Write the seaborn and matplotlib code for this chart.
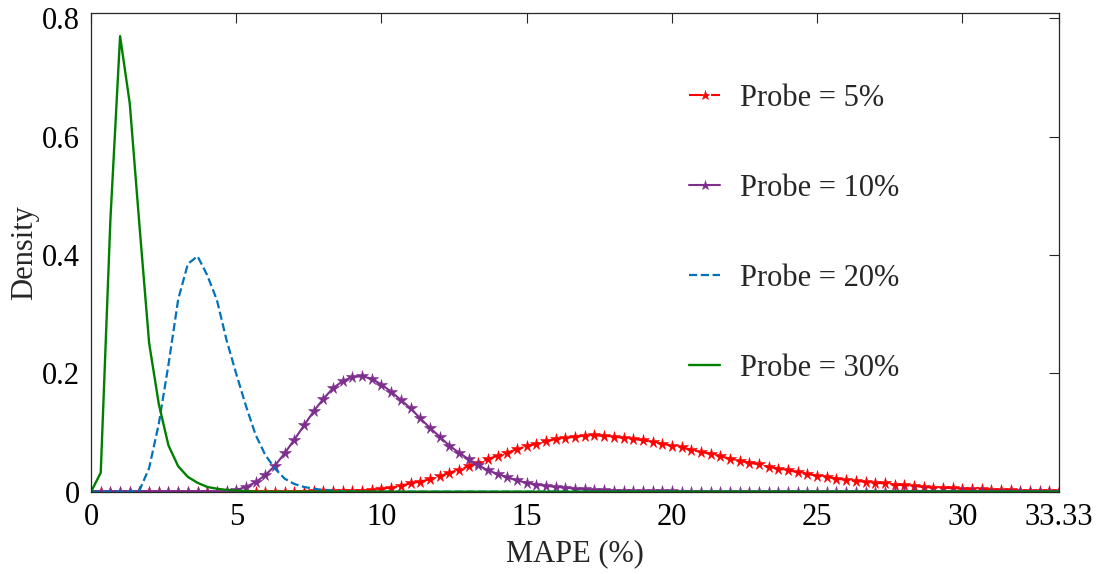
import numpy as np
import pandas as pd
import matplotlib
matplotlib.use("Agg")
import matplotlib.pyplot as plt
import seaborn as sns

# x grid: 101 points from 0 to 33.33
mape = np.arange(101) / 3.0

probe_5 = [
    0, 0, 0, 0, 0, 0, 0, 0, 0, 0,
    0, 0, 0, 0, 0, 0, 0, 0, 0, 0,
    0, 0, 0, 0.0005, 0.001, 0.001, 0.001, 0.002, 0.002, 0.003,
    0.005, 0.007, 0.010, 0.014, 0.017, 0.021, 0.026, 0.032, 0.037, 0.043,
    0.049, 0.055, 0.061, 0.066, 0.072, 0.077, 0.081, 0.085, 0.089, 0.0905,
    0.093, 0.0945, 0.095, 0.0945, 0.093, 0.091, 0.089, 0.087, 0.084, 0.081,
    0.078, 0.075, 0.071, 0.067, 0.064, 0.060, 0.056, 0.052, 0.049, 0.046,
    0.042, 0.039, 0.036, 0.033, 0.030, 0.027, 0.025, 0.022, 0.020, 0.018,
    0.017, 0.015, 0.014, 0.012, 0.011, 0.0095, 0.008, 0.007, 0.0065, 0.006,
    0.005, 0.0045, 0.004, 0.0034, 0.003, 0.0023, 0.0018, 0.0015, 0.001, 0.001,
    0.0006,
]

probe_10 = [
    0, 0, 0, 0, 0, 0, 0, 0, 0, 0,
    0, 0, 0, 0, 0.001, 0.003, 0.008, 0.016, 0.028, 0.044,
    0.065, 0.088, 0.112, 0.136, 0.157, 0.175, 0.187, 0.194, 0.195, 0.191,
    0.181, 0.169, 0.155, 0.141, 0.124, 0.108, 0.093, 0.078, 0.066, 0.055,
    0.045, 0.036, 0.030, 0.024, 0.019, 0.015, 0.012, 0.010, 0.008, 0.007,
    0.005, 0.004, 0.003, 0.003, 0.002, 0.002, 0.001, 0.001, 0.001, 0.001,
    0.001, 0, 0, 0, 0, 0, 0, 0, 0, 0,
    0, 0, 0, 0, 0, 0, 0, 0, 0, 0,
    0, 0, 0, 0, 0, 0, 0, 0, 0, 0,
    0, 0, 0, 0, 0, 0, 0, 0, 0, 0,
    0,
]

probe_20 = [
    0, 0, 0, 0, 0, 0.002, 0.040, 0.115, 0.215, 0.325,
    0.385, 0.398, 0.366, 0.324, 0.256, 0.199, 0.145, 0.096, 0.062, 0.039,
    0.022, 0.013, 0.008, 0.005, 0.003, 0.002, 0.001, 0.001, 0, 0,
    0, 0, 0, 0, 0, 0, 0, 0, 0, 0,
    0, 0, 0, 0, 0, 0, 0, 0, 0, 0,
    0, 0, 0, 0, 0, 0, 0, 0, 0, 0,
    0, 0, 0, 0, 0, 0, 0, 0, 0, 0,
    0, 0, 0, 0, 0, 0, 0, 0, 0, 0,
    0, 0, 0, 0, 0, 0, 0, 0, 0, 0,
    0, 0, 0, 0, 0, 0, 0, 0, 0, 0,
    0,
]

probe_30 = [
    0, 0.032, 0.46, 0.770, 0.656, 0.45, 0.251, 0.148, 0.078, 0.043,
    0.025, 0.015, 0.008, 0.005, 0.003, 0.002, 0.001, 0, 0, 0,
    0, 0, 0, 0, 0, 0, 0, 0, 0, 0,
    0, 0, 0, 0, 0, 0, 0, 0, 0, 0,
    0, 0, 0, 0, 0, 0, 0, 0, 0, 0,
    0, 0, 0, 0, 0, 0, 0, 0, 0, 0,
    0, 0, 0, 0, 0, 0, 0, 0, 0, 0,
    0, 0, 0, 0, 0, 0, 0, 0, 0, 0,
    0, 0, 0, 0, 0, 0, 0, 0, 0, 0,
    0, 0, 0, 0, 0, 0, 0, 0, 0, 0,
    0,
]

labels = ["Probe = 5%", "Probe = 10%", "Probe = 20%", "Probe = 30%"]
xtick_vals = [0, 5, 10, 15, 20, 25, 30, 33.33]
xtick_labels = ["0", "5", "10", "15", "20", "25", "30", "33.33"]
ytick_vals = [0, 0.2, 0.4, 0.6, 0.8]
ytick_labels = ["0", "0.2", "0.4", "0.6", "0.8"]

sns.set_style("white")
plt.rcParams["font.family"] = ["Liberation Serif", "DejaVu Serif"]
plt.rcParams["mathtext.fontset"] = "stix"

fig = plt.figure(figsize=(10.97, 5.74), dpi=100)
ax = fig.add_axes([0.083, 0.1434, 0.8824, 0.8334])

styles = [
    dict(color="#FF0000", linestyle="-.", marker="*", markersize=8.5,
         markeredgecolor="#FF0000", linewidth=1.5),
    dict(color="#7E2F8E", linestyle="-", marker="*", markersize=8.5,
         markeredgecolor="#7E2F8E", linewidth=1.5),
    dict(color="#0072BD", linestyle="--", linewidth=1.6, dashes=(4.5, 3.5)),
    dict(color="#008000", linestyle="-", linewidth=1.7),
]
series = [probe_5, probe_10, probe_20, probe_30]

for yvals, lab, st in zip(series, labels, styles):
    sns.lineplot(x=mape, y=yvals, ax=ax, label=lab, markeredgewidth=0.4, **st)

ax.set_xlim(0, 33.33)
ax.set_ylim(0, 0.8085)
ax.set_xticks(xtick_vals)
ax.set_xticklabels(xtick_labels)
ax.set_yticks(ytick_vals)
ax.set_yticklabels(ytick_labels)
ax.tick_params(direction="in", length=7, width=0.8, top=True, right=True,
               labelsize=22, pad=8, colors="#262626", labelcolor="black")
for sp in ax.spines.values():
    sp.set_visible(True)
    sp.set_color("#262626")
    sp.set_linewidth(0.9)

ax.set_xlabel("MAPE (%)", fontsize=22, labelpad=5)
ax.set_ylabel("Density", fontsize=22, labelpad=2)

ax.legend(loc="upper left", bbox_to_anchor=(0.618, 0.853), frameon=False,
          fontsize=22, labelspacing=2.0, handlelength=1.0, handletextpad=0.65,
          numpoints=1, borderpad=0, borderaxespad=0, markerscale=0.8)

fig.savefig("out.png", dpi=100)
